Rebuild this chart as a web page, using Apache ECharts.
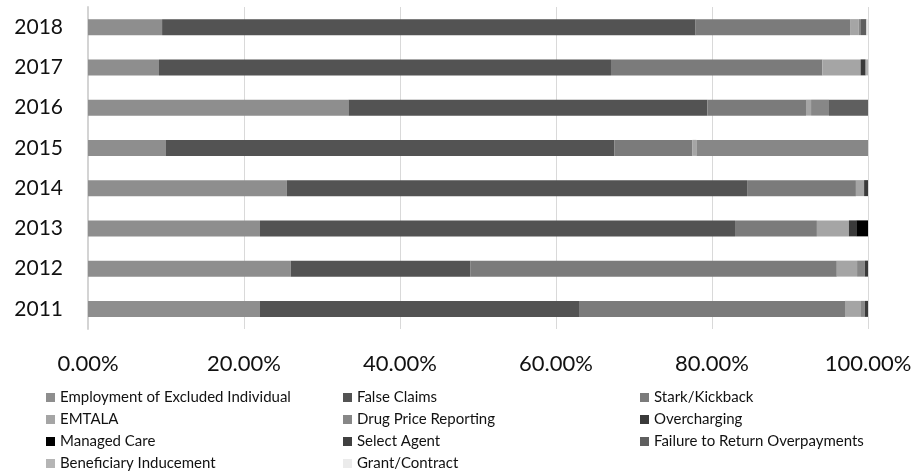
<!DOCTYPE html>
<html>
<head>
<meta charset="utf-8">
<style>
  html, body { margin: 0; padding: 0; background: #fff; }
  #chart { width: 920px; height: 472px; }
</style>
<script src="https://cdn.jsdelivr.net/npm/echarts@6/dist/echarts.min.js"></script>
</head>
<body>
<div id="chart"></div>
<script>
// share of settlements by type, percent of each year (2011 -> 2018)
const years = ['2011', '2012', '2013', '2014', '2015', '2016', '2017', '2018']

const employment = [22.05, 26.0, 22.05, 25.5, 10.0, 33.4, 9.1, 9.5]
const falseClaims = [40.9, 23.0, 60.9, 59.0, 57.5, 46.0, 57.95, 68.4]
const stark = [34.1, 47.0, 10.5, 13.95, 10.0, 12.65, 27.1, 19.8]
const emtala = [2.05, 2.6, 4.1, 1.05, 0.5, 0.65, 4.9, 1.1]
const drugPrice = [0.5, 1.0, 0, 0, 22.0, 2.3, 0, 0.3]
const overcharging = [0.4, 0.4, 0.95, 0.5, 0, 0, 0.65, 0]
const managedCare = [0, 0, 1.5, 0, 0, 0, 0, 0]
const selectAgent = [0, 0, 0, 0, 0, 0, 0, 0]
const failureToReturn = [0, 0, 0, 0, 0, 5.0, 0, 0.7]
const beneficiary = [0, 0, 0, 0, 0, 0, 0.3, 0]
const grantContract = [0, 0, 0, 0, 0, 0, 0, 0.2]

const xTicks = [0, 20, 40, 60, 80, 100]

const seriesDefs = [
  ['Employment of Excluded Individual', employment, '#8e8e8e'],
  ['False Claims', falseClaims, '#535353'],
  ['Stark/Kickback', stark, '#7b7b7b'],
  ['EMTALA', emtala, '#a5a5a5'],
  ['Drug Price Reporting', drugPrice, '#878787'],
  ['Overcharging', overcharging, '#3a3a3a'],
  ['Managed Care', managedCare, '#000000'],
  ['Select Agent', selectAgent, '#404040'],
  ['Failure to Return Overpayments', failureToReturn, '#5f5f5f'],
  ['Beneficiary Inducement', beneficiary, '#b5b5b5'],
  ['Grant/Contract', grantContract, '#ebebeb'],
]

const FONT = 'Lato, "Open Sans", sans-serif'

// one vertical legend per column, so the items line up like the original
const legendCol = (left, names) => ({
  orient: 'vertical',
  left,
  top: 390,
  height: 90,
  padding: 0,
  itemWidth: 9,
  itemHeight: 9,
  itemGap: 7,
  icon: 'rect',
  selectedMode: false,
  textStyle: {
    fontFamily: FONT,
    fontSize: 15,
    lineHeight: 15,
    color: '#111',
  },
  data: names,
})

const option = {
  animation: false,
  textStyle: { fontFamily: FONT },
  grid: {
    left: 88,
    right: 52,
    top: 7,
    height: 322,
  },
  legend: [
    legendCol(46, ['Employment of Excluded Individual', 'EMTALA', 'Managed Care', 'Beneficiary Inducement']),
    legendCol(343, ['False Claims', 'Drug Price Reporting', 'Select Agent', 'Grant/Contract']),
    legendCol(640, ['Stark/Kickback', 'Overcharging', 'Failure to Return Overpayments']),
  ],
  xAxis: {
    type: 'value',
    min: xTicks[0],
    max: xTicks[xTicks.length - 1],
    interval: 20,
    axisLine: { show: false },
    axisTick: { show: false },
    splitLine: {
      lineStyle: { color: '#d9d9d9', width: 1 },
    },
    axisLabel: {
      margin: 24,
      fontFamily: FONT,
      fontSize: 22,
      color: '#111',
      formatter: (v) => v.toFixed(2) + '%',
    },
  },
  yAxis: {
    type: 'category',
    data: years,
    axisTick: { show: false },
    axisLine: {
      lineStyle: { color: '#d4d4d4', width: 2 },
    },
    axisLabel: {
      margin: 25,
      fontFamily: FONT,
      fontSize: 21,
      color: '#111',
    },
  },
  series: seriesDefs.map(([name, data, color]) => ({
    type: 'bar',
    name,
    stack: 'total',
    data,
    barWidth: 16,
    itemStyle: { color },
  })),
}

const chart = echarts.init(document.getElementById('chart'))
chart.setOption(option)
</script>
</body>
</html>
